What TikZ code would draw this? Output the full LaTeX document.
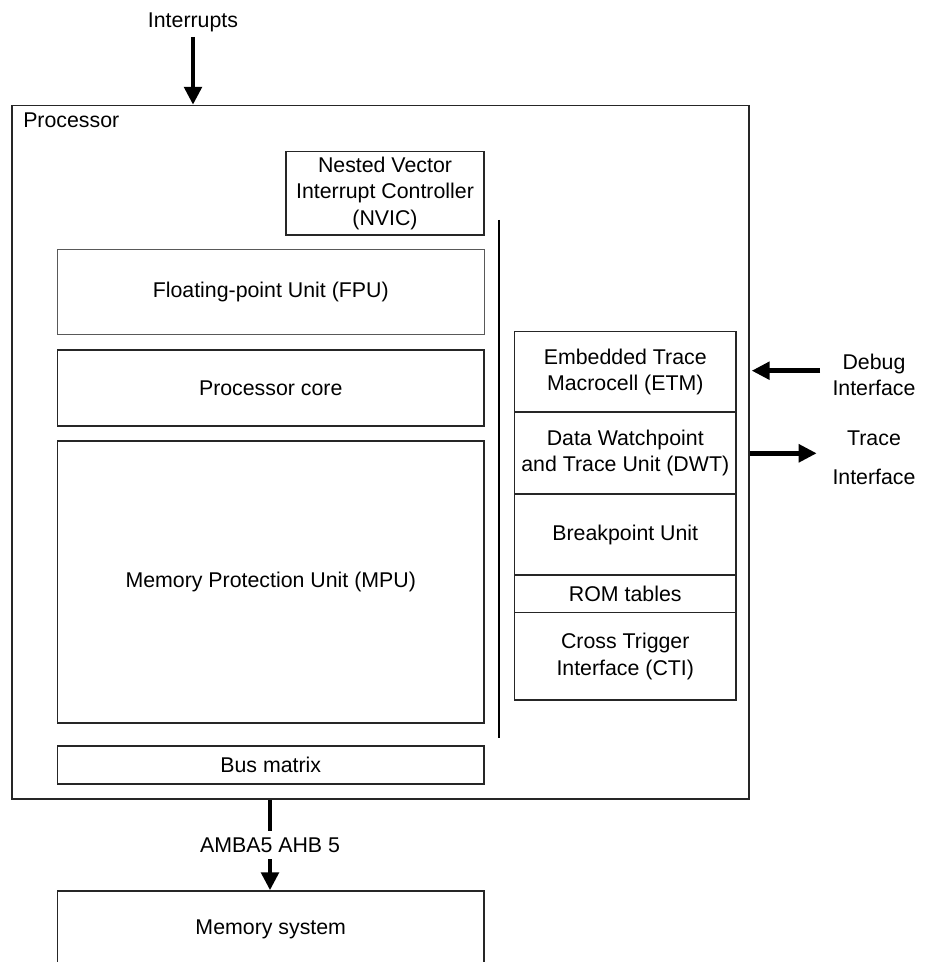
\documentclass[tikz,border=0pt]{standalone}
\usepackage{fontspec}
\setmainfont{Liberation Sans}
\usetikzlibrary{arrows.meta,fit}
\begin{document}
\begin{tikzpicture}[x=0.75pt,y=-0.75pt,
  txt/.style={font=\fontsize{16}{20}\selectfont, align=center, inner sep=0pt},
  blk/.style={draw=black!85, line width=1.1pt, inner sep=0pt, fit={#1}},
  softblk/.style={draw=black!65, line width=0.75pt, inner sep=0pt, fit={#1}},
  caption/.style={label={[txt]center:#1}},
  arr/.style={line width=3.4pt, -{Triangle[length=13.5pt,width=13pt]}},
  sep/.style={line width=1.1pt}]
\useasboundingbox (0,0) rectangle (926,962);
\clip (0,0) rectangle (926,962);

% outer processor boundary and its caption
\node[blk={(12,105.5) (749,799)}] (proc) {};
\node[txt, anchor=west] (proclbl) at (23,120.7) {Processor};

% interrupt controller
\node[blk={(286,151.5) (484,235)}, caption={Nested Vector\\Interrupt Controller\\(NVIC)}] (nvic) {};

% left column of processor blocks
\node[softblk={(57.5,250) (484,334)}, caption={Floating-point Unit (FPU)}] (fpu) {};
\node[blk={(57.5,350) (484,426)}, caption={Processor core}] (core) {};
\node[blk={(57.5,441) (484,723)}, caption={Memory Protection Unit (MPU)}] (mpu) {};
\node[blk={(57.5,746) (484,784)}, caption={Bus matrix}] (bus) {};

% divider between core side and debug side
\coordinate (sepT) at (499,220);
\coordinate (sepB) at (499,738);
\draw[sep] (sepT) -- (sepB);

% debug and trace stack
\node[blk={(514.5,331.7) (736,412)}, caption={Embedded Trace\\Macrocell (ETM)}] (etm) {};
\node[blk={(514.5,412) (736,494)}, caption={Data Watchpoint\\and Trace Unit (DWT)}] (dwt) {};
\node[blk={(514.5,494) (736,575)}, caption={Breakpoint Unit}] (bkpt) {};
\node[blk={(514.5,575) (736,612.7)}, caption={ROM tables}] (rom) {};
\node[blk={(514.5,612.7) (736,700)}, caption={Cross Trigger\\Interface (CTI)}] (cti) {};

% external memory (runs past the lower edge)
\node[blk={(57.5,891) (484,1000)}] (mem) {};
\node[txt] (memlbl) at (270.75,929) {Memory system};

% interrupts input
\node[txt] (intlbl) at (193,22) {Interrupts};
\coordinate (intin) at (193,37);
\draw[arr] (intin) -- (intin |- proc.north);

% debug interface input
\node[txt] (dbglbl) at (874,375) {Debug\\Interface};
\coordinate (dbgin) at (820,370.7);
\coordinate (dbgtip) at (751.7,370.7);
\draw[arr] (dbgin) -- (dbgtip);

% trace interface output
\node[txt] (trclbl) at (874,457.5) {Trace\\[9pt]Interface};
\coordinate (trcout) at (816.7,453.3);
\draw[arr] (trcout -| proc.east) -- (trcout);

% system bus to memory
\coordinate (busx) at (270,799);
\draw[arr] (busx |- proc.south) -- (busx |- mem.north)
  node[midway, txt, fill=white, inner ysep=5pt, inner xsep=2pt] (amba) {AMBA5 AHB 5};
\end{tikzpicture}
\end{document}
